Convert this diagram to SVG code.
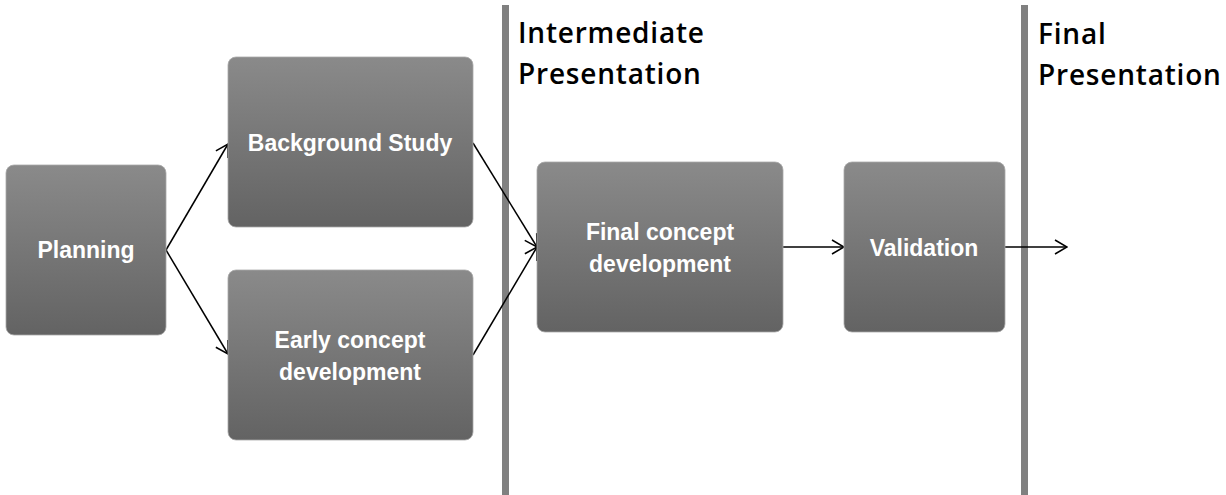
<svg xmlns="http://www.w3.org/2000/svg" width="1226" height="495" viewBox="0 0 1226 495">
<style>
.box{fill:url(#g);stroke:#a8a8a8;stroke-width:0.8}
.lbl{font-family:"Liberation Sans",Arial,sans-serif;font-weight:bold;font-size:23px;fill:#ffffff;text-anchor:middle}
.hdr{font-family:"Open Sans","DejaVu Sans",sans-serif;font-weight:600;font-size:28px;letter-spacing:0.8px;fill:#000000}
.bar{fill:#808080}
.con{fill:none;stroke:#000000;stroke-width:1.5;marker-end:url(#arr)}
</style>
<defs>
<linearGradient id="g" x1="0" y1="0" x2="0" y2="1">
<stop offset="0" stop-color="#8a8a8a"/>
<stop offset="1" stop-color="#636363"/>
</linearGradient>
<marker id="arr" viewBox="0 0 14 16" refX="13" refY="8" markerWidth="14" markerHeight="16" markerUnits="userSpaceOnUse" orient="auto">
<path d="M1,1 L13,8 L1,15" fill="none" stroke="#000" stroke-width="1.5"/>
</marker>
</defs>
<rect class="bar" x="502" y="5" width="7" height="490"/>
<rect class="bar" x="1021" y="5" width="7" height="490"/>
<text class="hdr" x="518" y="43">Intermediate</text>
<text class="hdr" x="518" y="84">Presentation</text>
<text class="hdr" x="1038" y="44">Final</text>
<text class="hdr" x="1038" y="85">Presentation</text>
<g id="connectors">
<path class="con" d="M166,250 L228,144"/>
<path class="con" d="M166,250 L228,354"/>
<path class="con" d="M473,143 L537,247"/>
<path class="con" d="M473,355 L537,247"/>
<path class="con" d="M783,247 L844,247"/>
<path class="con" d="M1005,247 L1067,247"/>
</g>
<g id="planning">
<rect class="box" x="6" y="165" width="160" height="170" rx="8"/>
<text class="lbl" x="86" y="258">Planning</text>
</g>
<g id="background">
<rect class="box" x="228" y="57" width="245" height="170" rx="8"/>
<text class="lbl" x="350" y="151">Background Study</text>
</g>
<g id="early">
<rect class="box" x="228" y="270" width="245" height="170" rx="8"/>
<text class="lbl" x="350" y="348">Early concept</text>
<text class="lbl" x="350" y="380">development</text>
</g>
<g id="finalconcept">
<rect class="box" x="537" y="162" width="246" height="170" rx="8"/>
<text class="lbl" x="660" y="240">Final concept</text>
<text class="lbl" x="660" y="272">development</text>
</g>
<g id="validation">
<rect class="box" x="844" y="162" width="161" height="170" rx="8"/>
<text class="lbl" x="924" y="256">Validation</text>
</g>
</svg>
